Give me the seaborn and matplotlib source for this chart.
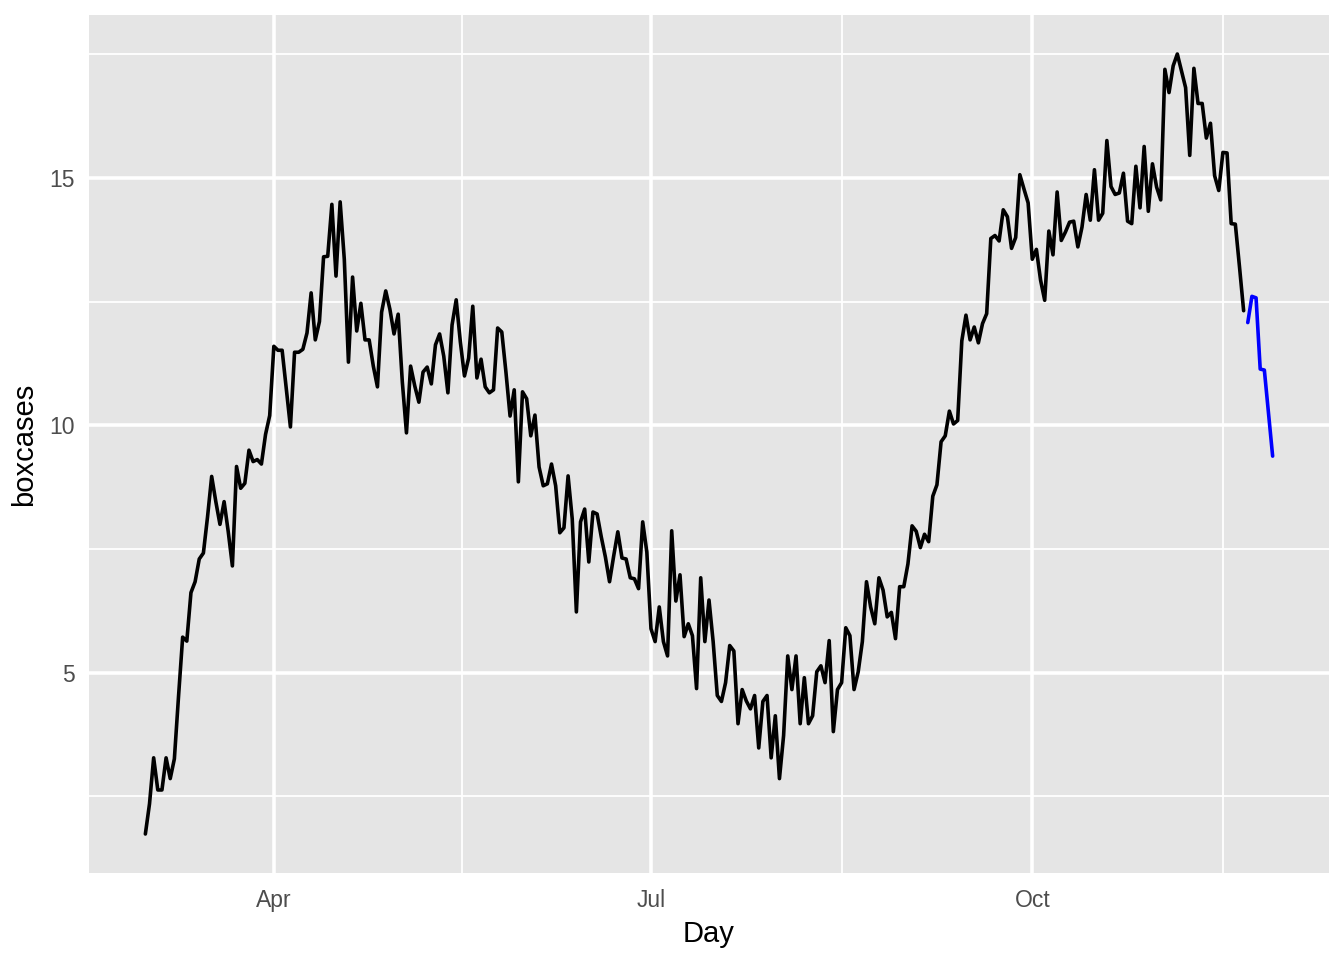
import pandas as pd
import matplotlib
matplotlib.use("Agg")
import matplotlib.pyplot as plt
import matplotlib.dates as mdates
from matplotlib.ticker import FixedLocator
import seaborn as sns

# observed daily values (from 2020-03-01)
start_day = "2020-03-01"
boxcases = [
    1.74, 2.35, 3.28, 2.63, 2.63, 3.28, 2.86, 3.26, 4.52, 5.72,
    5.64, 6.62, 6.84, 7.30, 7.42, 8.15, 8.97, 8.46, 8.00, 8.46,
    7.85, 7.16, 9.17, 8.73, 8.83, 9.50, 9.27, 9.31, 9.22, 9.82,
    10.20, 11.60, 11.52, 11.52, 10.74, 9.97, 11.48, 11.48, 11.54, 11.87,
    12.68, 11.73, 12.10, 13.41,
    13.42, 14.47, 13.02, 14.52, 13.36, 11.28, 13.00, 11.91, 12.47, 11.73,
    11.73, 11.20, 10.78, 12.29, 12.72, 12.35, 11.85, 12.25, 10.88, 9.85,
    11.20, 10.80, 10.47, 11.08, 11.18, 10.84, 11.63, 11.85, 11.40, 10.66,
    12.03, 12.54, 11.69, 11.00, 11.36, 12.41, 10.96, 11.34, 10.78, 10.66,
    10.72, 11.97, 11.89, 11.08, 10.19,
    10.72, 8.86, 10.68, 10.54, 9.79, 10.21, 9.16, 8.78, 8.82, 9.22,
    8.78, 7.83, 7.93, 8.98, 8.11, 6.23, 8.05, 8.31, 7.24, 8.25,
    8.21, 7.75, 7.34, 6.84, 7.36, 7.85, 7.32, 7.30, 6.92, 6.90,
    6.70, 8.05, 7.44, 5.89, 5.63, 6.33, 5.63, 5.34, 7.87, 6.45,
    6.98, 5.73, 5.99, 5.75, 4.68,
    6.92, 5.63, 6.47, 5.63, 4.54, 4.42, 4.80, 5.55, 5.44, 3.97,
    4.66, 4.43, 4.27, 4.54, 3.48, 4.42, 4.54, 3.28, 4.13, 2.86,
    3.73, 5.34, 4.66, 5.34, 3.97, 4.90, 3.97, 4.13, 5.02, 5.14,
    4.80, 5.65, 3.81, 4.66, 4.80, 5.91, 5.75, 4.66, 5.02, 5.63,
    6.84, 6.33, 5.99, 6.92,
    6.67, 6.13, 6.22, 5.69, 6.74, 6.74, 7.20, 7.97, 7.86, 7.53,
    7.80, 7.65, 8.57, 8.80, 9.67, 9.79, 10.29, 10.03, 10.10, 11.71,
    12.23, 11.73, 11.99, 11.67, 12.06, 12.26, 13.78, 13.84, 13.73, 14.36,
    14.22, 13.58, 13.80, 15.07, 14.78, 14.50, 13.36,
    13.56, 12.94, 12.53, 13.93, 13.45, 14.72,
    13.74, 13.91, 14.11, 14.13, 13.61, 14.01, 14.67, 14.15, 15.17, 14.15,
    14.29, 15.76, 14.83, 14.67, 14.70, 15.10, 14.13, 14.08, 15.24, 14.40,
    15.64, 14.33, 15.29, 14.82, 14.56, 17.20, 16.73, 17.27, 17.51, 17.17,
    16.83, 15.46, 17.22, 16.51, 16.51, 15.81, 16.11, 15.05, 14.75, 15.52,
    15.51, 14.08, 14.07, 13.21, 12.32,
]

# forecast (blue)
fc_start = "2020-11-22"
fc_values = [12.08, 12.61, 12.58, 11.14, 11.12, 10.25, 9.38]

y_major = [5, 10, 15]
y_minor = [2.5, 7.5, 12.5, 17.5]
x_major_months = ["2020-04-01", "2020-07-01", "2020-10-01", "2021-01-01"]

obs = pd.DataFrame({"Day": pd.date_range(start_day, periods=len(boxcases)),
                    "boxcases": boxcases})
fc = pd.DataFrame({"Day": pd.date_range(fc_start, periods=len(fc_values)),
                   "boxcases": fc_values})

sns.set_theme(style="darkgrid")
plt.rcParams["font.family"] = ["Liberation Sans", "DejaVu Sans"]

fig = plt.figure(figsize=(13.44, 9.6), dpi=100)
ax = fig.add_axes([89 / 1344, 87 / 960, 1240 / 1344, 858 / 960])
ax.set_facecolor("#E5E5E5")

sns.lineplot(data=obs, x="Day", y="boxcases", color="black", lw=2.6, ax=ax)
sns.lineplot(data=fc, x="Day", y="boxcases", color="blue", lw=2.6, ax=ax)

# ggplot-style 5% expansion
x0 = obs["Day"].min()
x1 = fc["Day"].max()
pad = (x1 - x0) * 0.05
ax.set_xlim(x0 - pad, x1 + pad)
all_y = boxcases + fc_values
ypad = (max(all_y) - min(all_y)) * 0.05
ax.set_ylim(min(all_y) - ypad, max(all_y) + ypad)

# ticks & grid
majors = pd.to_datetime(x_major_months)
minors = [majors[i] + (majors[i + 1] - majors[i]) / 2 for i in range(len(majors) - 1)]
ax.xaxis.set_major_locator(FixedLocator(mdates.date2num(majors)))
ax.xaxis.set_minor_locator(FixedLocator(mdates.date2num(minors)))
ax.xaxis.set_major_formatter(mdates.DateFormatter("%b"))
ax.yaxis.set_major_locator(FixedLocator(y_major))
ax.yaxis.set_minor_locator(FixedLocator(y_minor))
ax.set_yticklabels([str(v) for v in y_major])

ax.grid(True, which="major", color="white", lw=2.6)
ax.grid(True, which="minor", color="white", lw=1.3)
ax.set_axisbelow(True)
for s in ax.spines.values():
    s.set_visible(False)

ax.tick_params(axis="both", which="major", length=5.3, width=1.3, color="#333333",
               labelsize=16.5, labelcolor="#4D4D4D", pad=5)
ax.tick_params(axis="x", which="major", pad=6)
ax.tick_params(axis="both", which="minor", length=0)

ax.set_xlabel("Day", fontsize=21, color="black", labelpad=6)
ax.set_ylabel("boxcases", fontsize=21, color="black", labelpad=8)

fig.savefig("out.png", dpi=100)
